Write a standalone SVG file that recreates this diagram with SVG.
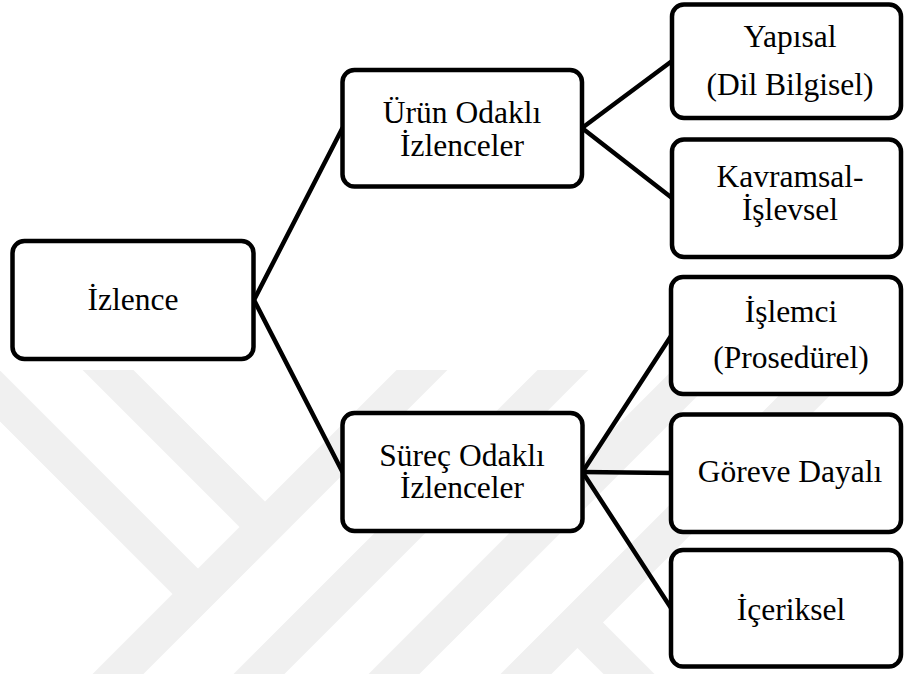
<svg xmlns="http://www.w3.org/2000/svg" width="904" height="674" viewBox="0 0 904 674">
  <defs>
    <style>
      .box { fill: #ffffff; stroke: #000000; stroke-width: 4.5; }
      .lbl { font-family: 'Liberation Serif', 'Times New Roman', serif; font-size: 31.5px; fill: #000000; text-anchor: middle; }
      .conn line { stroke: #000000; stroke-width: 4.5; stroke-linecap: round; }
      .wm line { stroke: #f0f0f0; stroke-width: 36; stroke-linecap: butt; }
    </style>
    <clipPath id="wmclip">
      <rect x="0" y="370" width="904" height="304"/>
    </clipPath>
  </defs>
  <rect x="0" y="0" width="904" height="674" fill="#ffffff"/>

  <g id="watermark" class="wm" clip-path="url(#wmclip)">
    <line x1="-60" y1="336" x2="198" y2="594"/>
    <line x1="60" y1="322" x2="265" y2="527"/>
    <line x1="100" y1="692" x2="500" y2="292"/>
    <line x1="240" y1="693" x2="640" y2="293"/>
    <line x1="370" y1="698" x2="770" y2="298"/>
    <line x1="500" y1="700" x2="900" y2="300"/>
    <line x1="578" y1="623" x2="700" y2="745"/>
  </g>

  <g id="connectors" class="conn">
    <line x1="254" y1="300" x2="342.5" y2="128"/>
    <line x1="254" y1="300" x2="342.5" y2="472"/>
    <line x1="582" y1="128" x2="672" y2="61"/>
    <line x1="582" y1="128" x2="672" y2="198"/>
    <line x1="582.5" y1="472" x2="671" y2="336"/>
    <line x1="582.5" y1="472" x2="671" y2="473"/>
    <line x1="582.5" y1="472" x2="671" y2="608"/>
  </g>

  <g id="node-izlence">
    <rect class="box" x="12.5" y="241" width="241" height="118" rx="12"/>
    <text class="lbl" x="133" y="310">İzlence</text>
  </g>

  <g id="node-urun">
    <rect class="box" x="342.5" y="70" width="239.5" height="116.5" rx="12"/>
    <text class="lbl" x="462" y="123">Ürün Odaklı</text>
    <text class="lbl" x="462" y="156">İzlenceler</text>
  </g>

  <g id="node-surec">
    <rect class="box" x="342.5" y="413" width="240" height="118" rx="12"/>
    <text class="lbl" x="462" y="466">Süreç Odaklı</text>
    <text class="lbl" x="462" y="498">İzlenceler</text>
  </g>

  <g id="node-yapisal">
    <rect class="box" x="672" y="4.5" width="229" height="113.5" rx="12"/>
    <text class="lbl" x="790" y="47">Yapısal</text>
    <text class="lbl" x="790" y="95">(Dil Bilgisel)</text>
  </g>

  <g id="node-kavramsal">
    <rect class="box" x="672" y="139.5" width="229" height="117.5" rx="12"/>
    <text class="lbl" x="790" y="187">Kavramsal-</text>
    <text class="lbl" x="790" y="220">İşlevsel</text>
  </g>

  <g id="node-islemci">
    <rect class="box" x="671" y="277" width="230" height="117" rx="12"/>
    <text class="lbl" x="791" y="322">İşlemci</text>
    <text class="lbl" x="791" y="368">(Prosedürel)</text>
  </g>

  <g id="node-goreve">
    <rect class="box" x="671" y="414.5" width="230" height="117.5" rx="12"/>
    <text class="lbl" x="790" y="482">Göreve Dayalı</text>
  </g>

  <g id="node-iceriksel">
    <rect class="box" x="671" y="550" width="230" height="116.5" rx="12"/>
    <text class="lbl" x="791" y="620">İçeriksel</text>
  </g>
</svg>
